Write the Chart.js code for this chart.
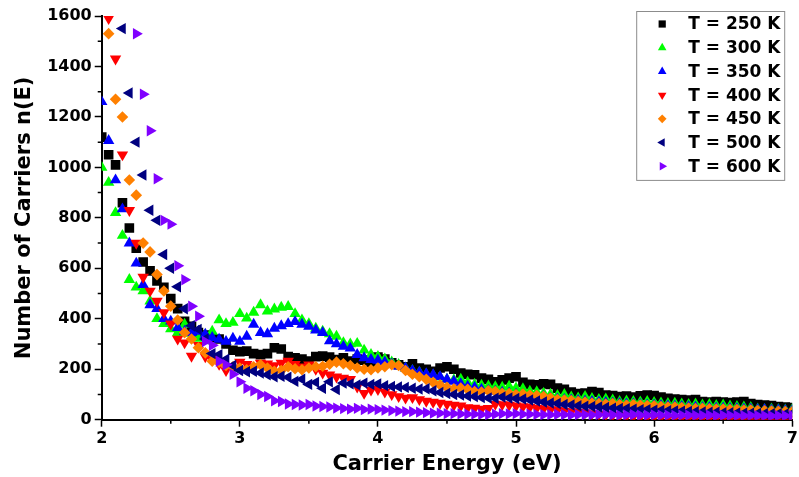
<!DOCTYPE html>
<html>
<head>
<meta charset="utf-8">
<title>Carrier distribution</title>
<script src="https://cdn.jsdelivr.net/npm/chart.js@4.4.0/dist/chart.umd.min.js"></script>
<style>
  html, body { margin: 0; padding: 0; background: #fff; }
  #wrap { width: 799px; height: 477px; position: relative; }
</style>
</head>
<body>
<div id="wrap"><canvas id="carrierChart"></canvas></div>
<script>
// Carrier energy grid (eV), shared by all temperatures
const energy = [
  2.00, 2.05, 2.10, 2.15, 2.20, 2.25, 2.30, 2.35, 2.40, 2.45,
  2.50, 2.55, 2.60, 2.65, 2.70, 2.75, 2.80, 2.85, 2.90, 2.95,
  3.00, 3.05, 3.10, 3.15, 3.20, 3.25, 3.30, 3.35, 3.40, 3.45,
  3.50, 3.55, 3.60, 3.65, 3.70, 3.75, 3.80, 3.85, 3.90, 3.95,
  4.00, 4.05, 4.10, 4.15, 4.20, 4.25, 4.30, 4.35, 4.40, 4.45,
  4.50, 4.55, 4.60, 4.65, 4.70, 4.75, 4.80, 4.85, 4.90, 4.95,
  5.00, 5.05, 5.10, 5.15, 5.20, 5.25, 5.30, 5.35, 5.40, 5.45,
  5.50, 5.55, 5.60, 5.65, 5.70, 5.75, 5.80, 5.85, 5.90, 5.95,
  6.00, 6.05, 6.10, 6.15, 6.20, 6.25, 6.30, 6.35, 6.40, 6.45,
  6.50, 6.55, 6.60, 6.65, 6.70, 6.75, 6.80, 6.85, 6.90, 6.95, 7.00
];

// n(E) for each temperature; null = off the top of the axis
const n250 = [
  1120, 1050, 1010, 860, 760, 680, 625, 590, 550, 525,
  480, 440, 390, 370, 345, 335, 325, 320, 300, 275,
  270, 272, 262, 258, 262, 285, 280, 250, 245, 240,
  232, 250, 252, 248, 238, 245, 232, 240, 236, 228,
  248, 240, 225, 218, 210, 222, 205, 200, 192, 205,
  210, 200, 185, 180, 178, 165, 160, 150, 158, 165,
  170, 148, 140, 138, 142, 140, 125, 120, 110, 104,
  106, 112, 108, 98, 96, 92, 94, 90, 95, 98,
  96, 90, 85, 82, 80, 78, 80, 72, 70, 72,
  70, 68, 70, 72, 64, 60, 58, 56, 52, 50, 48
];
const n300 = [
  1000, 940, 820, 730, 555, 525, 510, 470, 400, 380,
  360, 345, 378, 342, 322, 335, 350, 395, 380, 385,
  420, 402, 425, 455, 430, 438, 445, 448, 420, 395,
  380, 362, 350, 340, 330, 305, 300, 302, 275, 258,
  250, 240, 228, 218, 205, 195, 188, 180, 176, 168,
  160, 158, 160, 148, 140, 136, 133, 130, 128, 132,
  125, 122, 112, 110, 104, 100, 96, 99, 90, 86,
  92, 84, 80, 82, 78, 72, 74, 72, 70, 72,
  68, 66, 64, 65, 62, 60, 62, 58, 60, 56,
  58, 54, 52, 50, 48, 42, 40, 42, 40, 38, 40
];
const n350 = [
  1260, 1106, 950, 835, 700, 620, 535, 455, 440, 400,
  390, 365, 350, 345, 350, 338, 325, 318, 310, 322,
  310, 330, 378, 345, 340, 362, 372, 380, 388, 378,
  370, 355, 345, 312, 300, 290, 283, 258, 245, 238,
  235, 228, 220, 212, 205, 195, 188, 182, 178, 170,
  160, 152, 142, 132, 128, 120, 115, 112, 108, 105,
  100, 98, 94, 90, 92, 86, 82, 80, 78, 76,
  74, 72, 70, 68, 66, 64, 62, 62, 60, 58,
  58, 56, 55, 54, 52, 52, 50, 48, 48, 46,
  46, 44, 44, 42, 42, 40, 40, 38, 38, 36, 36
];
const n400 = [
  null, 1590, 1430, 1050, 830, 700, 565, 510, 470, 425,
  380, 320, 305, 252, 295, 250, 238, 220, 195, 205,
  228, 220, 210, 225, 222, 215, 225, 232, 220, 210,
  218, 200, 185, 178, 170, 165, 160, 130, 105, 118,
  120, 110, 100, 92, 86, 88, 80, 74, 70, 66,
  62, 58, 55, 48, 46, 42, 45, 62, 60, 58,
  55, 52, 50, 46, 44, 40, 38, 34, 32, 30,
  28, 24, 22, 20, 18, 16, 14, 13, 12, 12,
  11, 10, 10, 9, 9, 8, 8, 8, 7, 7,
  6, 6, 6, 5, 5, 5, 4, 4, 4, 3, 3
];
const n450 = [
  null, 1530, 1270, 1200, 950, 890, 700, 665, 575, 510,
  450, 395, 345, 320, 285, 265, 232, 228, 215, 210,
  205, 198, 210, 218, 205, 192, 195, 210, 202, 198,
  205, 210, 212, 220, 228, 222, 215, 205, 200, 198,
  205, 210, 218, 215, 195, 180, 170, 160, 148, 138,
  128, 122, 125, 120, 112, 110, 115, 112, 105, 104,
  100, 102, 98, 96, 92, 86, 80, 78, 76, 72,
  70, 66, 64, 62, 64, 60, 58, 60, 58, 56,
  55, 52, 50, 50, 48, 46, 44, 45, 43, 42,
  42, 40, 40, 38, 38, 36, 35, 34, 33, 32, 32
];
const n500 = [
  null, null, null, 1550, 1295, 1100, 970, 830, 790, 655,
  600, 527, 440, 372, 358, 320, 262, 258, 240, 215,
  195, 190, 192, 185, 178, 170, 172, 168, 152, 160,
  140, 148, 125, 150, 120, 145, 142, 138, 145, 140,
  142, 135, 132, 130, 128, 125, 122, 123, 115, 108,
  104, 100, 98, 94, 92, 88, 86, 85, 90, 86,
  84, 82, 78, 74, 70, 66, 64, 60, 58, 55,
  53, 52, 50, 48, 46, 45, 44, 42, 40, 40,
  38, 37, 36, 35, 34, 33, 32, 31, 30, 30,
  28, 28, 27, 26, 26, 25, 24, 24, 24, 23, 24
];
const n600 = [
  null, null, null, null, null, 1530, 1290, 1145, 955, 790,
  775, 610, 555, 450, 410, 310, 295, 232, 218, 180,
  150, 125, 115, 100, 92, 75, 72, 62, 60, 58,
  60, 54, 52, 50, 46, 44, 42, 45, 40, 42,
  40, 38, 36, 34, 32, 32, 30, 28, 26, 26,
  24, 24, 23, 22, 22, 21, 20, 22, 24, 23,
  24, 22, 22, 21, 20, 20, 21, 20, 19, 20,
  20, 19, 20, 20, 19, 18, 19, 20, 18, 18,
  19, 18, 18, 17, 18, 18, 17, 17, 18, 16,
  17, 17, 16, 16, 17, 16, 16, 15, 16, 16, 16
];

const seriesLabels = ['T = 250 K', 'T = 300 K', 'T = 350 K', 'T = 400 K', 'T = 450 K', 'T = 500 K', 'T = 600 K'];
const seriesValues = [n250, n300, n350, n400, n450, n500, n600];

const xTicks = [2, 3, 4, 5, 6, 7];
const xMinor = [2.5, 3.5, 4.5, 5.5, 6.5];
const yTicks = [0, 200, 400, 600, 800, 1000, 1200, 1400, 1600];
const yMinor = [100, 300, 500, 700, 900, 1100, 1300, 1500];

// marker look per temperature
const markers = [
  { color: '#000000', style: 'rect', rotation: 0, radius: 6.8 },
  { color: '#00ff00', style: 'triangle', rotation: 0, radius: 6.6 },
  { color: '#0000ff', style: 'triangle', rotation: 0, radius: 6.6 },
  { color: '#ff0000', style: 'triangle', rotation: 180, radius: 6.6 },
  { color: '#ff8000', style: 'rectRot', rotation: 0, radius: 5.8 },
  { color: '#000080', style: 'triangle', rotation: -90, radius: 6.6 },
  { color: '#8000ff', style: 'triangle', rotation: 90, radius: 6.6 }
];

const FONT = "'DejaVu Sans', Arial, sans-serif";

function toPoints(values) {
  const pts = [];
  values.forEach((v, i) => {
    if (v !== null) pts.push({ x: energy[i], y: v });
  });
  return pts;
}

const datasets = seriesValues.map((vals, i) => ({
  label: seriesLabels[i],
  data: toPoints(vals),
  backgroundColor: markers[i].color,
  borderColor: markers[i].color,
  borderWidth: 0,
  pointStyle: markers[i].style,
  pointRotation: markers[i].rotation,
  pointRadius: markers[i].radius,
  // higher temperatures are painted on top
  order: seriesValues.length - 1 - i
}));

// short unlabelled ticks between the major ones
const minorTicks = {
  id: 'minorTicks',
  afterDraw(chart) {
    const { ctx } = chart;
    const x = chart.scales.x, y = chart.scales.y;
    ctx.save();
    ctx.strokeStyle = '#000';
    ctx.lineWidth = 1.5;
    ctx.beginPath();
    xMinor.forEach(v => {
      const px = x.getPixelForValue(v);
      ctx.moveTo(px, x.top);
      ctx.lineTo(px, x.top + 4);
    });
    yMinor.forEach(v => {
      const py = y.getPixelForValue(v);
      ctx.moveTo(y.right, py);
      ctx.lineTo(y.right - 4, py);
    });
    ctx.stroke();
    ctx.restore();
  }
};

// boxed legend in the upper right corner of the plot
const boxLegend = {
  id: 'boxLegend',
  afterDatasetsDraw(chart) {
    const { ctx, chartArea } = chart;
    const boxW = 148, rowH = 23.7;
    const n = chart.data.datasets.length;
    const boxH = n * rowH + 3;
    const left = chartArea.right - 156;
    const top = chartArea.top - 5;
    ctx.save();
    ctx.fillStyle = '#fff';
    ctx.fillRect(left, top, boxW, boxH);
    ctx.strokeStyle = '#8c8c8c';
    ctx.lineWidth = 1;
    ctx.strokeRect(left + 0.5, top + 0.5, boxW, boxH);
    ctx.font = 'bold 17px ' + FONT;
    ctx.textBaseline = 'middle';
    ctx.textAlign = 'left';
    chart.data.datasets.forEach((ds, i) => {
      const cy = top + 13 + i * rowH;
      ctx.fillStyle = ds.backgroundColor;
      Chart.helpers.drawPoint(ctx, {
        pointStyle: ds.pointStyle,
        rotation: ds.pointRotation,
        radius: ds.pointRadius * 0.75,
        borderWidth: 0
      }, left + 26, cy);
      ctx.fillStyle = '#000';
      ctx.fillText(ds.label, left + 52, cy + 1);
    });
    ctx.restore();
  }
};

new Chart(document.getElementById('carrierChart'), {
  type: 'scatter',
  data: { datasets },
  options: {
    responsive: true,
    maintainAspectRatio: false,
    animation: false,
    layout: { padding: { top: 16, right: 0, bottom: 0, left: 8 } },
    plugins: {
      legend: { display: false },
      tooltip: { enabled: false }
    },
    scales: {
      x: {
        type: 'linear',
        min: 2,
        max: 7,
        afterBuildTicks: axis => { axis.ticks = xTicks.map(v => ({ value: v })); },
        // let the plot run almost to the right edge
        afterFit: axis => { axis.paddingRight = 2; },
        border: { color: '#000', width: 2 },
        grid: { drawOnChartArea: false, drawTicks: true, tickLength: 7, color: '#000', tickWidth: 1.5 },
        ticks: { color: '#000', padding: 3, font: { family: FONT, size: 16, weight: 'bold' } },
        title: {
          display: true,
          text: 'Carrier Energy (eV)',
          color: '#000',
          padding: { top: 1, bottom: 1 },
          font: { family: FONT, size: 21, weight: 'bold', lineHeight: 1.1 }
        }
      },
      y: {
        type: 'linear',
        min: 0,
        max: 1600,
        afterBuildTicks: axis => { axis.ticks = yTicks.map(v => ({ value: v })); },
        border: { color: '#000', width: 2 },
        grid: { drawOnChartArea: false, drawTicks: true, tickLength: 7, color: '#000', tickWidth: 1.5 },
        ticks: {
          color: '#000',
          padding: 3,
          font: { family: FONT, size: 16, weight: 'bold' },
          callback: v => String(v)
        },
        title: {
          display: true,
          text: 'Number of Carriers n(E)',
          color: '#000',
          padding: { top: 4, bottom: 7 },
          font: { family: FONT, size: 21, weight: 'bold' }
        }
      }
    }
  },
  plugins: [minorTicks, boxLegend]
});
</script>
</body>
</html>
